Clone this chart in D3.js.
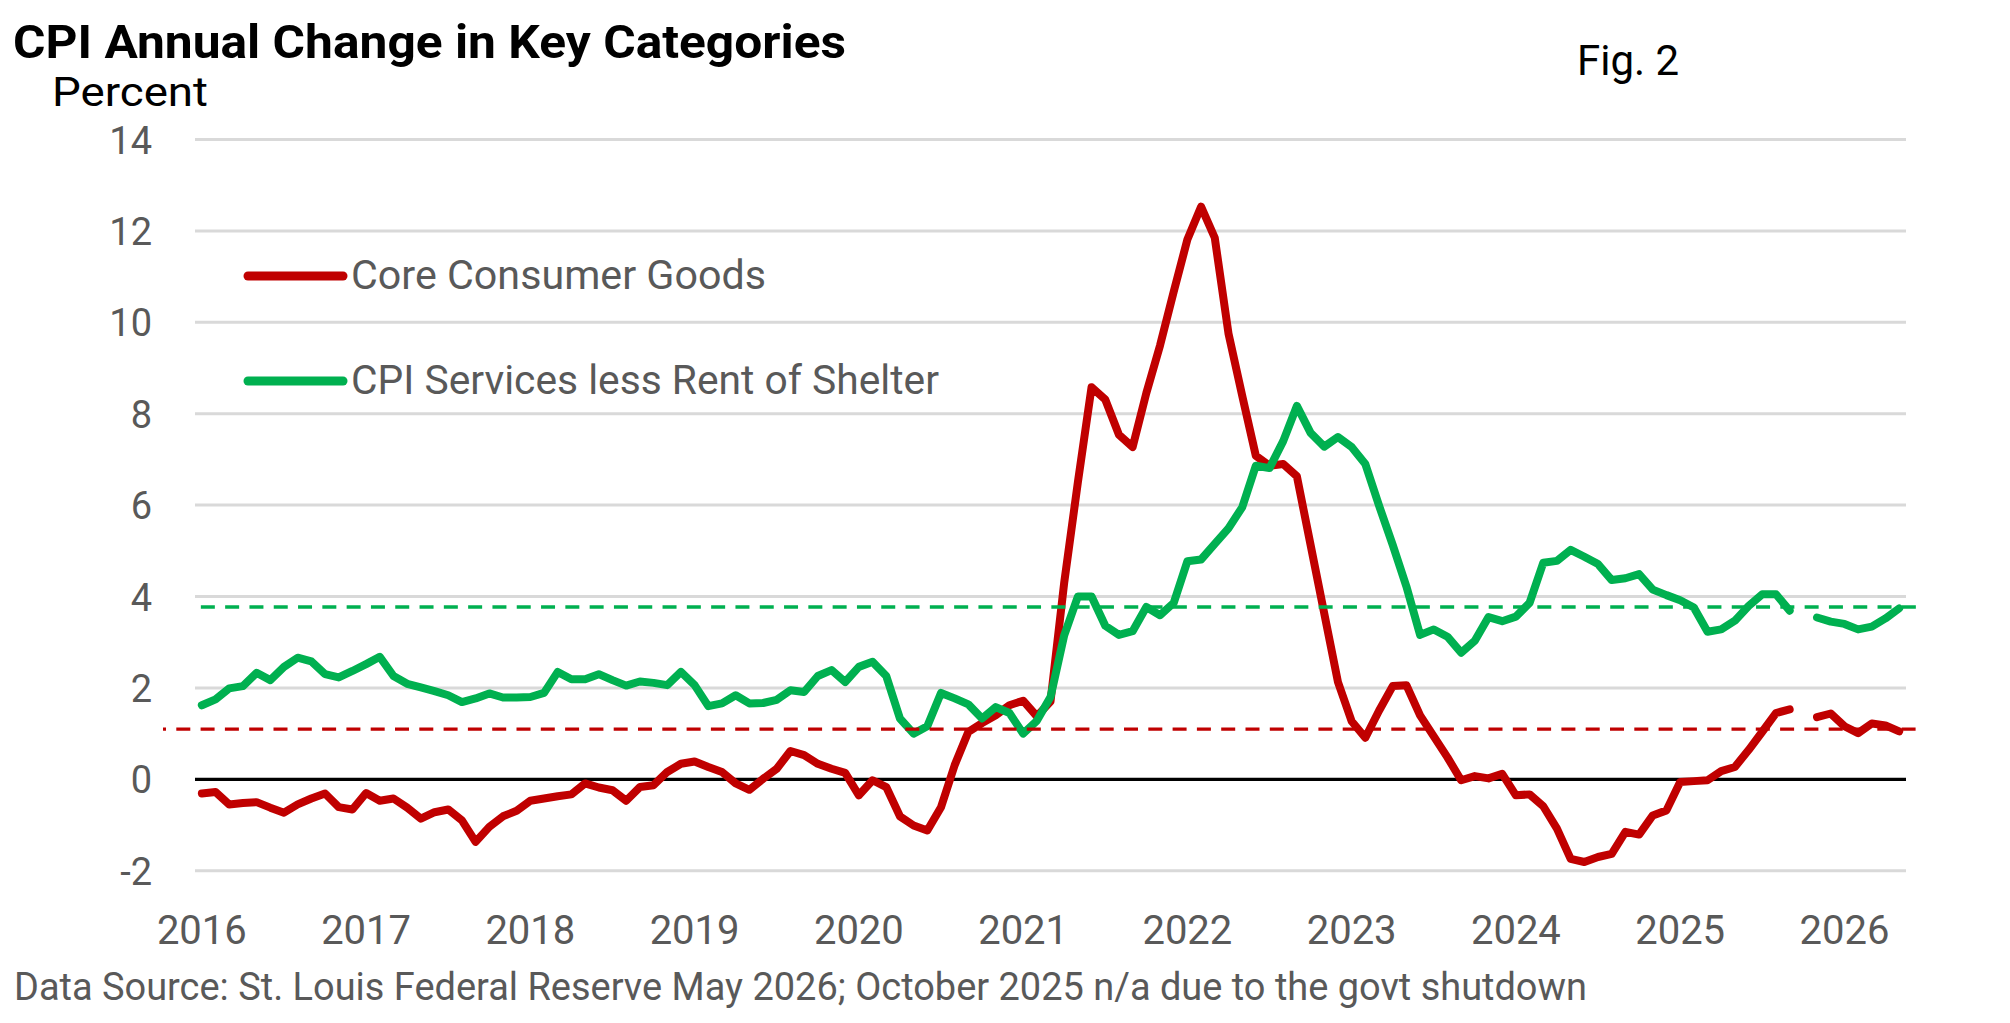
<!DOCTYPE html>
<html><head><meta charset="utf-8">
<script src="https://cdn.jsdelivr.net/npm/d3@7"></script>
<style>html,body{margin:0;padding:0;background:#fff;} svg{display:block;}</style>
</head><body>
<svg id="chart" width="2010" height="1023"></svg>
<script>
// ---- Data (annual % change, monthly, Jan 2016 .. May 2026; Oct 2025 missing) ----
const coreGoods = [
 -0.31,-0.28,-0.55,-0.52,-0.50,-0.62,-0.73,-0.55,-0.42,-0.31,-0.61,-0.66,
 -0.30,-0.47,-0.42,-0.62,-0.86,-0.72,-0.66,-0.90,-1.37,-1.04,-0.81,-0.69,
 -0.47,-0.42,-0.37,-0.33,-0.09,-0.18,-0.24,-0.47,-0.17,-0.13,0.16,0.34,
 0.39,0.27,0.16,-0.09,-0.23,0.01,0.23,0.62,0.53,0.34,0.23,0.14,
 -0.35,-0.02,-0.17,-0.81,-1.01,-1.12,-0.61,0.31,1.04,1.23,1.40,1.62,
 1.72,1.38,1.70,4.30,6.50,8.58,8.31,7.54,7.27,8.45,9.49,10.67,
 11.81,12.53,11.85,9.76,8.40,7.08,6.86,6.90,6.63,5.13,3.63,2.13,
 1.27,0.91,1.50,2.04,2.06,1.40,0.94,0.48,-0.02,0.07,0.02,0.12,
 -0.35,-0.33,-0.59,-1.08,-1.74,-1.81,-1.70,-1.63,-1.15,-1.21,-0.79,-0.68,
 -0.06,-0.04,-0.02,0.18,0.27,0.64,1.04,1.45,1.53,null,1.36,1.44,
 1.16,1.01,1.22,1.18,1.05
];
const servicesLessRent = [
 1.62,1.75,1.99,2.04,2.33,2.17,2.46,2.66,2.58,2.30,2.23,2.37,
 2.52,2.68,2.26,2.09,2.01,1.93,1.84,1.69,1.77,1.88,1.79,1.79,
 1.80,1.89,2.35,2.19,2.19,2.30,2.17,2.05,2.14,2.11,2.06,2.35,
 2.06,1.60,1.66,1.84,1.66,1.67,1.74,1.95,1.91,2.26,2.39,2.13,
 2.46,2.57,2.26,1.33,1.00,1.16,1.89,1.77,1.64,1.33,1.58,1.45,
 1.00,1.28,1.80,3.15,4.00,4.00,3.36,3.16,3.24,3.77,3.59,3.86,
 4.77,4.81,5.15,5.49,5.95,6.86,6.81,7.40,8.17,7.58,7.28,7.49,
 7.27,6.90,5.99,5.13,4.22,3.16,3.28,3.12,2.77,3.03,3.55,3.46,
 3.56,3.86,4.74,4.78,5.02,4.87,4.71,4.36,4.40,4.49,4.15,4.03,
 3.92,3.76,3.23,3.28,3.47,3.79,4.05,4.05,3.69,null,3.54,3.45,
 3.40,3.28,3.34,3.52,3.74
];
const seriesNames = ["Core Consumer Goods", "CPI Services less Rent of Shelter"];
const seriesColors = ["#C00000", "#00B050"];
const goodsAverage = 1.10;     // red dashed reference
const servicesAverage = 3.77;  // green dashed reference
const yearLabels = ["2016","2017","2018","2019","2020","2021","2022","2023","2024","2025","2026"];
const yTicks = [-2, 0, 2, 4, 6, 8, 10, 12, 14];
const titleText = "CPI Annual Change in Key Categories";
const unitText = "Percent";
const figText = "Fig. 2";
const sourceText = "Data Source: St. Louis Federal Reserve May 2026; October 2025 n/a due to the govt shutdown";

// ---- Layout ----
const svg = d3.select("#chart");
svg.append("rect").attr("width", 2010).attr("height", 1023).attr("fill", "#fff");
const plot = {left: 195, right: 1906, top: 139.5, bottom: 870.7};
const months = d3.timeMonth.range(new Date(2016, 0, 1), new Date(2026, 5, 1));
const x = d3.scaleBand().domain(months.map(d => +d)).range([plot.left, plot.right]).padding(0);
const xc = d => x(+d) + x.bandwidth() / 2;
const y = d3.scaleLinear().domain([-2, 14]).range([plot.bottom, plot.top]);
const FONT = "Roboto, 'Open Sans', sans-serif";

function fit(sel, w) {
  sel.each(function() {
    const cur = this.getComputedTextLength();
    if (Math.abs(cur - w) > 1) {
      d3.select(this).attr("textLength", w).attr("lengthAdjust", "spacingAndGlyphs");
    }
  });
  return sel;
}

// gridlines
svg.append("g").selectAll("line").data(yTicks.filter(v => v !== 0)).join("line")
  .attr("x1", plot.left).attr("x2", plot.right)
  .attr("y1", d => y(d)).attr("y2", d => y(d))
  .attr("stroke", "#D9D9D9").attr("stroke-width", 3);
// zero line
svg.append("line").attr("x1", plot.left).attr("x2", plot.right)
  .attr("y1", y(0)).attr("y2", y(0)).attr("stroke", "#000").attr("stroke-width", 3.2);

// y tick labels
svg.append("g").selectAll("text").data(yTicks).join("text")
  .attr("x", 152).attr("y", d => y(d) + 14)
  .attr("text-anchor", "end").attr("font-family", FONT).attr("font-size", 38)
  .attr("fill", "#595959").text(d => d);

// x tick labels (January of each year)
const janMonths = months.filter(d => d.getMonth() === 0);
svg.append("g").selectAll("text").data(yearLabels).join("text")
  .attr("x", (d, i) => xc(janMonths[i])).attr("y", 944)
  .attr("text-anchor", "middle").attr("font-family", FONT).attr("font-size", 40)
  .attr("fill", "#595959").text(d => d);

// series lines
const line = d3.line().defined(d => d.v !== null).x(d => xc(d.m)).y(d => y(d.v));
[coreGoods, servicesLessRent].forEach((arr, i) => {
  const pts = arr.map((v, k) => ({m: months[k], v}));
  svg.append("path").datum(pts).attr("d", line)
    .attr("fill", "none").attr("stroke", seriesColors[i]).attr("stroke-width", 8)
    .attr("stroke-linejoin", "round").attr("stroke-linecap", "round");
});

// dashed reference lines
const xEnd = plot.right + 15;
svg.append("line").attr("x1", plot.left - 32).attr("x2", xEnd)
  .attr("y1", y(goodsAverage)).attr("y2", y(goodsAverage))
  .attr("stroke", seriesColors[0]).attr("stroke-width", 3.3)
  .attr("stroke-dasharray", "14 10.3").attr("stroke-dashoffset", 11);
svg.append("line").attr("x1", xc(months[0]) - 1).attr("x2", xEnd)
  .attr("y1", y(servicesAverage)).attr("y2", y(servicesAverage))
  .attr("stroke", seriesColors[1]).attr("stroke-width", 3.3)
  .attr("stroke-dasharray", "14 10.3");

// legend
const legY = [276, 381];
const legW = [415, 588];
seriesNames.forEach((name, i) => {
  svg.append("line").attr("x1", 248).attr("x2", 343).attr("y1", legY[i]).attr("y2", legY[i])
    .attr("stroke", seriesColors[i]).attr("stroke-width", 9).attr("stroke-linecap", "round");
  svg.append("text").attr("x", 351).attr("y", legY[i] + 13)
    .attr("font-family", FONT).attr("font-size", 40).attr("fill", "#595959")
    .text(name).call(fit, legW[i]);
});

// titles
svg.append("text").attr("x", 13).attr("y", 58).attr("font-family", FONT)
  .attr("font-weight", "bold").attr("font-size", 47).attr("fill", "#000")
  .text(titleText).call(fit, 833);
svg.append("text").attr("x", 52).attr("y", 106).attr("font-family", FONT)
  .attr("font-size", 40).attr("fill", "#000").text(unitText).call(fit, 156);
svg.append("text").attr("x", 1577).attr("y", 75).attr("font-family", FONT)
  .attr("font-size", 42).attr("fill", "#000").text(figText).call(fit, 102);
svg.append("text").attr("x", 14).attr("y", 1000).attr("font-family", FONT)
  .attr("font-size", 38).attr("fill", "#595959").text(sourceText).call(fit, 1573);
</script>
</body></html>
